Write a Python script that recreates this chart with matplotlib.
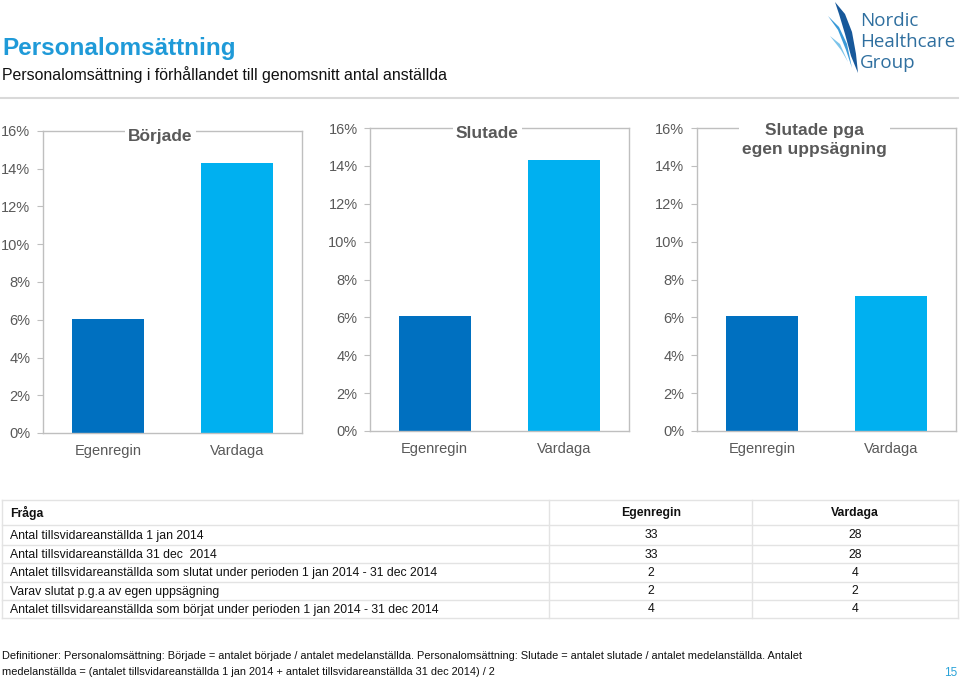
import matplotlib
matplotlib.use("Agg")
import matplotlib.pyplot as plt
from matplotlib.ticker import FuncFormatter
from matplotlib.patches import Polygon
from matplotlib.lines import Line2D

plt.rcParams['font.family'] = ['Liberation Sans', 'DejaVu Sans']

# ---- data ----
categories = ["Egenregin", "Vardaga"]
panel_titles = ["Började", "Slutade", "Slutade pga\negen uppsägning"]
borjade = [6.06, 14.29]
slutade = [6.06, 14.29]
slutade_pga = [6.06, 7.14]
panel_values = [borjade, slutade, slutade_pga]
yticks = [0, 2, 4, 6, 8, 10, 12, 14, 16]

table_header = ["Fråga", "Egenregin", "Vardaga"]
table_questions = [
    "Antal tillsvidareanställda 1 jan 2014",
    "Antal tillsvidareanställda 31 dec  2014",
    "Antalet tillsvidareanställda som slutat under perioden 1 jan 2014 - 31 dec 2014",
    "Varav slutat p.g.a av egen uppsägning",
    "Antalet tillsvidareanställda som börjat under perioden 1 jan 2014 - 31 dec 2014",
]
table_egenregin = [33, 33, 2, 2, 4]
table_vardaga = [28, 28, 4, 2, 4]

W, H = 960, 678
fig = plt.figure(figsize=(W / 100, H / 100), dpi=100)
fig.patch.set_facecolor("white")

def fx(x):
    return x / W

def fy(y):
    return 1 - y / H

# ---- header ----
fig.text(fx(2), fy(49), "Personalomsättning", color="#1f9ad8", fontsize=17.5,
         fontweight="bold", va="center", ha="left")
fig.text(fx(2), fy(75), "Personalomsättning i förhållandet till genomsnitt antal anställda",
         color="#111111", fontsize=11.4, va="center", ha="left")
fig.add_artist(Line2D([0, fx(958)], [fy(98), fy(98)], color="#d9d9d9", lw=1.5))

# ---- logo ----
logo_col = "#2f6f9f"
for txt, yy in [("Nordic", 21), ("Healthcare", 42), ("Group", 63)]:
    fig.text(fx(860), fy(yy), txt, color=logo_col, fontsize=13.5, va="center", ha="left",
             family=["Open Sans", "DejaVu Sans"])
sw1 = [(835, 2), (845, 14), (852, 32), (856, 54), (858, 73), (851, 56), (845, 34), (839, 14)]
sw2 = [(828, 16), (839, 27), (847, 44), (852, 68), (846, 50), (838, 30)]
sw3 = [(830, 36), (840, 44), (848, 62), (841, 50)]
for pts, c in [(sw3, "#7cc4ea"), (sw2, "#3a9ad8"), (sw1, "#17589a")]:
    fig.add_artist(Polygon([(fx(a), fy(b)) for a, b in pts], closed=True,
                           facecolor=c, edgecolor="none", transform=fig.transFigure))

# ---- bar panels ----
boxes = [(43, 302, 131, 433), (370, 629, 128, 431), (697, 956, 128, 431)]
bar_colors = ["#0070c0", "#00b0f0"]
spine_col = "#bfbfbf"
text_col = "#595959"
for (l, r, t, b), vals, title in zip(boxes, panel_values, panel_titles):
    ax = fig.add_axes([fx(l), fy(b), fx(r - l), (b - t) / H])
    ax.bar(range(len(categories)), vals, width=0.555, color=bar_colors, zorder=2)
    ax.set_xlim(-0.5, len(categories) - 0.5)
    ax.set_ylim(0, 16)
    ax.set_yticks(yticks)
    ax.yaxis.set_major_formatter(FuncFormatter(lambda v, p: f"{v:.0f}%"))
    ax.set_xticks(range(len(categories)))
    ax.set_xticklabels(categories)
    ax.tick_params(axis="y", length=4, color=spine_col, labelcolor=text_col, labelsize=10.5, pad=5)
    ax.tick_params(axis="x", length=0, labelcolor=text_col, labelsize=10.5, pad=8)
    for s in ax.spines.values():
        s.set_color(spine_col)
        s.set_linewidth(1)
    nlines = title.count("\n") + 1
    ty = t + 6 if nlines == 1 else t + 12
    cx = (l + r) / 2 - 12
    fig.text(fx(cx), fy(ty), title, ha="center", va="center", fontsize=12.5,
             fontweight="bold", color=text_col, linespacing=1.3,
             bbox=dict(facecolor="white", edgecolor="none", pad=2), zorder=10)

# ---- table ----
grid_col = "#e3e3e3"
row_lines = [500, 525, 545, 563, 582, 600, 618]
for y in row_lines:
    fig.add_artist(Line2D([fx(2), fx(958)], [fy(y), fy(y)], color=grid_col, lw=1))
for x in [2, 549, 752, 958]:
    fig.add_artist(Line2D([fx(x), fx(x)], [fy(500), fy(618)], color=grid_col, lw=1))

tcol = "#111111"
tfs = 8.8
col_x = [10, 651, 855]
fig.text(fx(col_x[0]), fy(513), table_header[0], ha="left", va="center", fontsize=tfs,
         fontweight="bold", color=tcol)
fig.text(fx(col_x[1]), fy(513), table_header[1], ha="center", va="center", fontsize=tfs,
         fontweight="bold", color=tcol)
fig.text(fx(col_x[2]), fy(513), table_header[2], ha="center", va="center", fontsize=tfs,
         fontweight="bold", color=tcol)
for i, (q, e, v) in enumerate(zip(table_questions, table_egenregin, table_vardaga)):
    yc = (row_lines[i + 1] + row_lines[i + 2]) / 2 + 0.5
    fig.text(fx(col_x[0]), fy(yc), q, ha="left", va="center", fontsize=tfs, color=tcol)
    fig.text(fx(col_x[1]), fy(yc), str(e), ha="center", va="center", fontsize=tfs, color=tcol)
    fig.text(fx(col_x[2]), fy(yc), str(v), ha="center", va="center", fontsize=tfs, color=tcol)

# ---- footer ----
ffs = 7.95
fig.text(fx(2), fy(656),
         "Definitioner: Personalomsättning: Började = antalet började / antalet medelanställda. "
         "Personalomsättning: Slutade = antalet slutade / antalet medelanställda. Antalet",
         ha="left", va="center", fontsize=ffs, color=tcol)
fig.text(fx(2), fy(672),
         "medelanställda = (antalet tillsvidareanställda 1 jan 2014 + antalet tillsvidareanställda 31 dec 2014) / 2",
         ha="left", va="center", fontsize=ffs, color=tcol)
fig.text(fx(951), fy(673), "15", ha="center", va="center", fontsize=8.5, color="#2aa3d8")

fig.savefig("out.png", dpi=100)
